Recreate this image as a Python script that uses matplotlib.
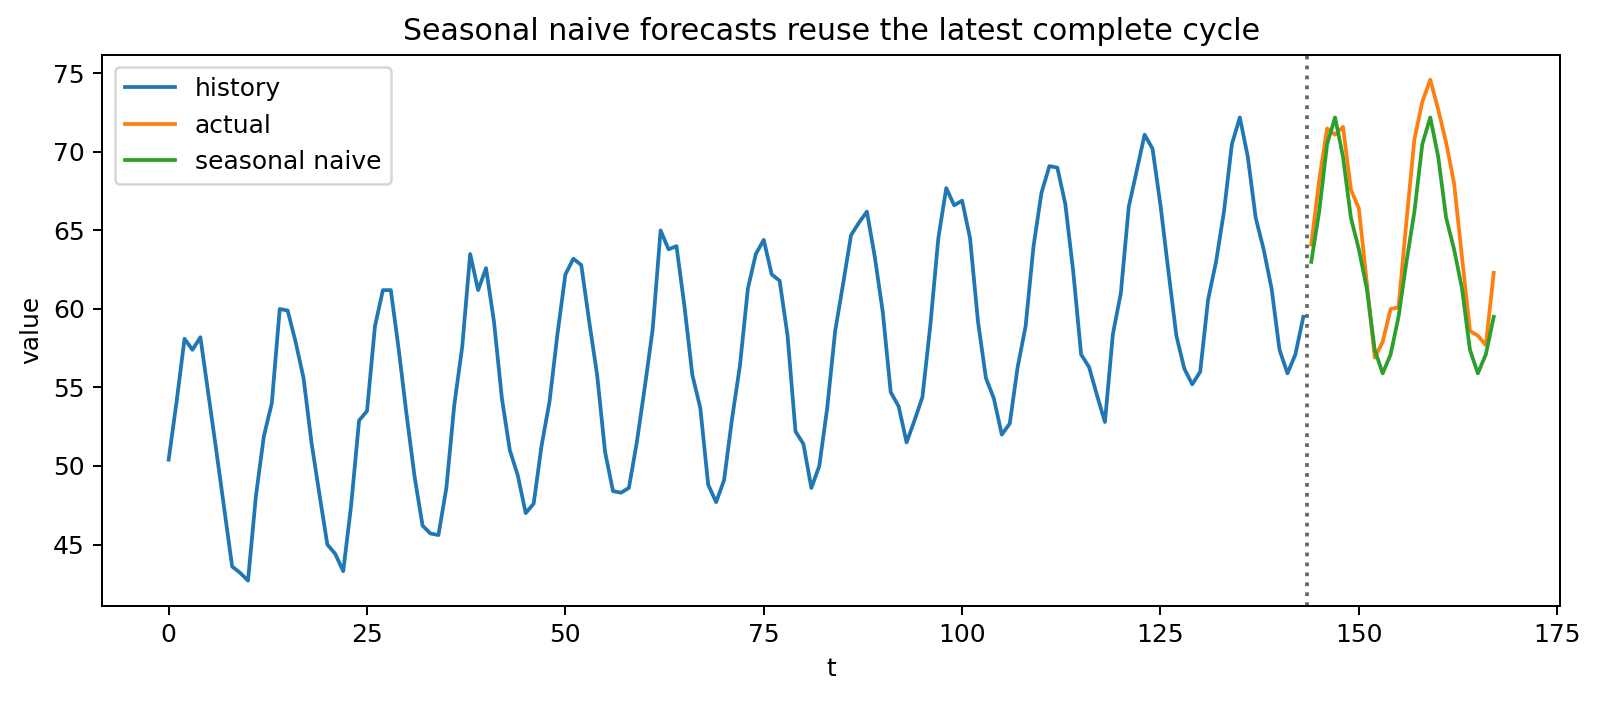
import numpy as np
import matplotlib.pyplot as plt

season = 12

# monthly history, t = 0..143
history = [
    50.4, 54.1, 58.1, 57.4, 58.2, 54.6, 51.0, 47.3, 43.6, 43.2, 42.7, 48.1,
    51.9, 54.0, 60.0, 59.9, 57.9, 55.6, 51.5, 48.2, 45.0, 44.4, 43.3, 47.5,
    52.9, 53.5, 58.9, 61.2, 61.2, 57.4, 53.2, 49.3, 46.2, 45.7, 45.6, 48.6,
    53.9, 57.6, 63.5, 61.2, 62.6, 59.2, 54.3, 51.0, 49.4, 47.0, 47.6, 51.3,
    54.1, 58.4, 62.2, 63.2, 62.8, 59.2, 55.8, 50.9, 48.4, 48.3, 48.6, 51.5,
    55.0, 58.7, 65.0, 63.8, 64.0, 60.2, 55.8, 53.7, 48.8, 47.7, 49.1, 53.0,
    56.4, 61.3, 63.5, 64.4, 62.2, 61.8, 58.3, 52.2, 51.4, 48.6, 50.0, 53.7,
    58.6, 61.6, 64.7, 65.5, 66.2, 63.3, 59.8, 54.7, 53.8, 51.5, 52.9, 54.4,
    59.0, 64.5, 67.7, 66.6, 66.9, 64.5, 59.2, 55.6, 54.3, 52.0, 52.7, 56.3,
    58.9, 64.0, 67.4, 69.1, 69.0, 66.7, 62.4, 57.1, 56.3, 54.5, 52.8, 58.4,
    61.0, 66.5, 68.8, 71.1, 70.2, 66.6, 62.4, 58.3, 56.2, 55.2, 56.0, 60.6,
    63.0, 66.2, 70.5, 72.2, 69.7, 65.8, 63.8, 61.3, 57.4, 55.9, 57.1, 59.5,
]

# held-out actuals, t = 144..167
actual = [
    64.1, 68.2, 71.5, 71.1, 71.6, 67.6, 66.4, 61.7, 56.9, 57.9, 60.0, 60.1,
    65.6, 70.8, 73.2, 74.6, 72.7, 70.6, 68.0, 63.3, 58.6, 58.3, 57.7, 62.3,
]

t_hist = np.arange(len(history))
t_test = np.arange(len(history), len(history) + len(actual))

# seasonal naive: repeat the last full cycle
last_cycle = np.array(history[-season:])
naive = np.tile(last_cycle, len(actual) // season)

fig, ax = plt.subplots(figsize=(1600 / 180, 701 / 180), dpi=180)
ax.plot(t_hist, history, label='history')
ax.plot(t_test, actual, label='actual')
ax.plot(t_test, naive, label='seasonal naive')
ax.axvline(len(history) - 0.5, color='k', linestyle=':', alpha=0.6)

ax.set_title('Seasonal naive forecasts reuse the latest complete cycle')
ax.set_xlabel('t')
ax.set_ylabel('value')
ax.legend(loc='upper left')

fig.subplots_adjust(left=0.064, right=0.975, top=0.922, bottom=0.136)
plt.savefig('out.png', dpi=180)
plt.close()
